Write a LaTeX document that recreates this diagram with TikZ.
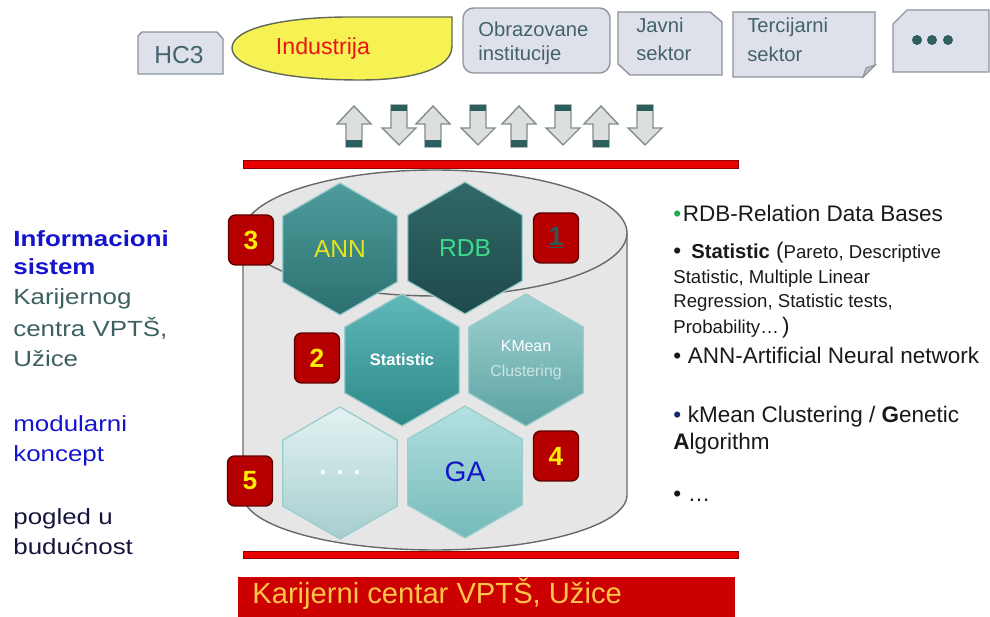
\documentclass[tikz,border=0pt]{standalone}
\usepackage{fontspec}
\setmainfont{Liberation Sans}
\newfontfamily\widesans{Liberation Sans}[FakeStretch=1.18]
\usetikzlibrary{shapes.geometric}
\usepackage{xcolor}
\definecolor{tagfill}{RGB}{223,225,234}
\definecolor{tagline}{RGB}{140,148,156}
\definecolor{tagtext}{RGB}{66,98,108}
\definecolor{indyellow}{RGB}{246,242,84}
\definecolor{indline}{RGB}{95,105,85}
\definecolor{indred}{RGB}{235,20,20}
\definecolor{arrfill}{RGB}{221,223,223}
\definecolor{arrline}{RGB}{128,142,142}
\definecolor{arrbar}{RGB}{45,95,95}
\definecolor{barred}{RGB}{234,0,0}
\definecolor{bardark}{RGB}{140,0,0}
\definecolor{cylfill}{RGB}{230,230,230}
\definecolor{cylline}{RGB}{105,105,105}
\definecolor{numred}{RGB}{182,0,0}
\definecolor{numdark}{RGB}{95,0,0}
\definecolor{numyellow}{RGB}{255,236,0}
\definecolor{numteal}{RGB}{40,90,90}
\definecolor{banred}{RGB}{204,0,0}
\definecolor{banorange}{RGB}{255,196,72}
\definecolor{infoblue}{RGB}{20,20,205}
\definecolor{infoteal}{RGB}{60,95,95}
\definecolor{infonavy}{RGB}{22,22,60}
\definecolor{txtdark}{RGB}{25,25,25}
\definecolor{bulgreen}{RGB}{30,170,70}
\definecolor{bulnavy}{RGB}{20,40,110}
% hexagon colours
\definecolor{annTop}{RGB}{78,156,156}
\definecolor{annBot}{RGB}{44,112,112}
\definecolor{rdbTop}{RGB}{50,104,104}
\definecolor{rdbBot}{RGB}{30,74,74}
\definecolor{statTop}{RGB}{96,184,184}
\definecolor{statBot}{RGB}{46,136,136}
\definecolor{kmTop}{RGB}{160,210,210}
\definecolor{kmBot}{RGB}{92,162,162}
\definecolor{dotTop}{RGB}{226,242,242}
\definecolor{dotBot}{RGB}{166,206,206}
\definecolor{gaTop}{RGB}{180,224,224}
\definecolor{gaBot}{RGB}{116,186,186}
\newcommand\setfs[2]{\fontsize{#1}{#2}\selectfont}

\begin{document}
\begin{tikzpicture}[x=0.02cm, y=-0.02cm,
  tagbox/.style={fill=tagfill, draw=tagline, line width=0.8pt},
  tagtxt/.style={anchor=base west, inner sep=0pt, text=tagtext, font=\setfs{11.5}{13}},
  arrbody/.style={fill=arrfill, draw=arrline, line width=0.8pt},
  redbar/.style={fill=barred, draw=bardark, line width=0.5pt},
  hexcell/.style={regular polygon, regular polygon sides=6, shape border rotate=30,
                  minimum size=2.64cm, inner sep=0pt, draw=white!60!teal,
                  line width=0.7pt, align=center},
  numbox/.style={rounded corners=4pt, fill=numred, draw=numdark, line width=0.8pt,
                 minimum width=0.9cm, minimum height=1cm, inner sep=0pt,
                 text=numyellow, font=\bfseries\setfs{15}{17}},
  lefttxt/.style={anchor=base west, inner sep=0pt, font=\widesans\setfs{12.5}{15}},
  infobold/.style={text=infoblue, font=\widesans\bfseries\setfs{12.5}{15}},
  infoteal/.style={text=infoteal},
  infoblue/.style={text=infoblue},
  infonavy/.style={text=infonavy},
  righttxt/.style={anchor=base west, inner sep=0pt, text=txtdark, font=\setfs{12.8}{15}},
  smalltxt/.style={anchor=base west, inner sep=0pt, text=txtdark, font=\setfs{10.6}{13}}]

\useasboundingbox (0,0) rectangle (990,617);

% --- partner tags on top ---
\draw[tagbox] (138,74) -- (138,36) -- (142,32) -- (217,32) -- (223,39) -- (223,74) -- cycle;
\node[inner sep=0pt, text=tagtext, font=\setfs{14}{16}] (hc3) at (179,55) {HC3};

\draw[fill=indyellow, draw=indline, line width=0.8pt]
  (452,17) -- (452,46) .. controls (452,70) and (410,80) .. (360,80)
  .. controls (285,80) and (232,68) .. (232,48)
  .. controls (232,28) and (285,17) .. (350,17) -- cycle;
\node[anchor=base, inner sep=0pt, text=indred, font=\setfs{13.2}{15}] (indu) at (323,55) {Industrija};

\draw[tagbox, rounded corners=6pt] (463,8) rectangle (610,73);
\node[tagtxt] (obr1) at (478,37) {Obrazovane};
\node[tagtxt] (obr2) at (478,61) {institucije};

\draw[tagbox] (618,12) -- (710,12) -- (722,22) -- (722,75) -- (630,75) -- (618,64) -- cycle;
\node[tagtxt] (jav1) at (636,33) {Javni};
\node[tagtxt] (jav2) at (636,61) {sektor};

\draw[tagbox] (733,12) -- (875,12) -- (875,65) -- (863,77) -- (733,77) -- cycle;
\draw[fill=tagline!60, draw=tagline, line width=0.6pt] (875,65) -- (866,68) -- (863,77) -- cycle;
\node[tagtxt] (ter1) at (747,33) {Tercijarni};
\node[tagtxt] (ter2) at (747,62) {sektor};

\draw[tagbox] (907,10) -- (989,10) -- (989,72) -- (893,72) -- (893,24) -- cycle;
\foreach \dx in {917,932,948}
  \fill[arrbar] (\dx,40) circle (5);

% --- exchange arrows ---
\foreach \cx in {354,433,519,601} {
  \draw[arrbody] (\cx,106) -- (\cx+17,124) -- (\cx+8,124) -- (\cx+8,147)
        -- (\cx-8,147) -- (\cx-8,124) -- (\cx-17,124) -- cycle;
  \fill[arrbar] (\cx-8,140) rectangle (\cx+8,147);
}
\foreach \cx in {399,478,563,645} {
  \draw[arrbody] (\cx-8,105) -- (\cx+8,105) -- (\cx+8,128) -- (\cx+17,128)
        -- (\cx,145) -- (\cx-17,128) -- (\cx-8,128) -- cycle;
  \fill[arrbar] (\cx-8,105) rectangle (\cx+8,111);
}

% --- red bars ---
\draw[redbar] (243,160) rectangle (738,168);
\draw[redbar] (243,551) rectangle (738,558);

% --- database cylinder ---
\fill[cylfill] (243,233) rectangle (627,495);
\fill[cylfill] (435,495) ellipse [x radius=192, y radius=55];
\draw[cylline, line width=0.8pt] (243,233) -- (243,495)
  arc[start angle=180, end angle=0, x radius=192, y radius=55] -- (627,233);
\draw[cylline, fill=cylfill, line width=0.8pt] (435,233) ellipse [x radius=192, y radius=63];

% --- module hexagons ---
\node[hexcell, top color=annTop, bottom color=annBot, text={rgb,255:red,230;green,230;blue,20},
      font=\setfs{14}{16}] (ann) at (340,249) {ANN};
\node[hexcell, top color=rdbTop, bottom color=rdbBot, text={rgb,255:red,60;green,220;blue,140},
      font=\setfs{14}{16}] (rdb) at (465,248) {RDB};
\node[hexcell, top color=statTop, bottom color=statBot, text=white,
      font=\bfseries\setfs{9.4}{12}] (stat) at (402,360) {Statistic};
\node[hexcell, top color=kmTop, bottom color=kmBot, text=white,
      font=\setfs{9}{14}] (kmean) at (526,360) {KMean\\{\color{white!80!teal}Clustering}};
\node[hexcell, top color=dotTop, bottom color=dotBot, text=white,
      font=\bfseries\setfs{15}{17}] (more) at (340,473) {. . .};
\node[hexcell, top color=gaTop, bottom color=gaBot, text={rgb,255:red,20;green,20;blue,200},
      font=\setfs{16}{18}] (ga) at (465,472) {GA};

% --- module numbers ---
\node[numbox] (n3) at (251,240) {3};
\node[numbox] (n1) at (556,238) {\color{numteal}\underline{1}};
\node[numbox] (n2) at (317,358) {2};
\node[numbox] (n4) at (556,456) {4};
\node[numbox] (n5) at (250,481) {5};

% --- bottom banner ---
\fill[banred] (238,577) rectangle (735,620);
\node[anchor=base west, inner sep=0pt, text=banorange, font=\setfs{16.6}{19}] (banner)
      at (252,603) {Karijerni centar VPTŠ, Užice};

% --- left description ---
\foreach \nm/\yy/\sty/\txt in {inf1/247/infobold/Informacioni, inf2/275/infobold/sistem,
    kar1/305/infoteal/Karijernog, kar2/337/infoteal/{centra VPTŠ,}, kar3/367/infoteal/Užice,
    mod1/432/infoblue/modularni, mod2/462/infoblue/koncept,
    pog1/525/infonavy/pogled u, pog2/555/infonavy/budućnost}
  \node[lefttxt, \sty] (\nm) at (13,\yy) {\txt};

% --- right bullet list ---
\node[righttxt] (b1) at (673,222) {{\color{bulgreen}\textbullet}\hspace{1pt}RDB-Relation Data Bases};
\node[righttxt] (b2) at (673,259) {\textbullet\hspace{0.45em}{\bfseries\setfs{11.5}{14}Statistic} ({\setfs{10.6}{13}Pareto, Descriptive}};
\node[smalltxt] (b2a) at (673,284) {Statistic, Multiple Linear};
\node[smalltxt] (b2b) at (673,308) {Regression, Statistic tests,};
\node[smalltxt] (b2c) at (673,334) {Probability…\,{\setfs{12.8}{15})}};
\node[righttxt] (b3) at (673,364) {\textbullet\hspace{0.3em}ANN-Artificial Neural network};
\node[righttxt] (b4) at (673,423) {{\color{bulnavy}\textbullet}\hspace{0.3em}kMean Clustering / \textbf{G}enetic};
\node[righttxt] (b4a) at (673,450) {\textbf{A}lgorithm};
\node[righttxt] (b5) at (673,502) {\textbullet\hspace{0.3em}…};

\end{tikzpicture}
\end{document}
